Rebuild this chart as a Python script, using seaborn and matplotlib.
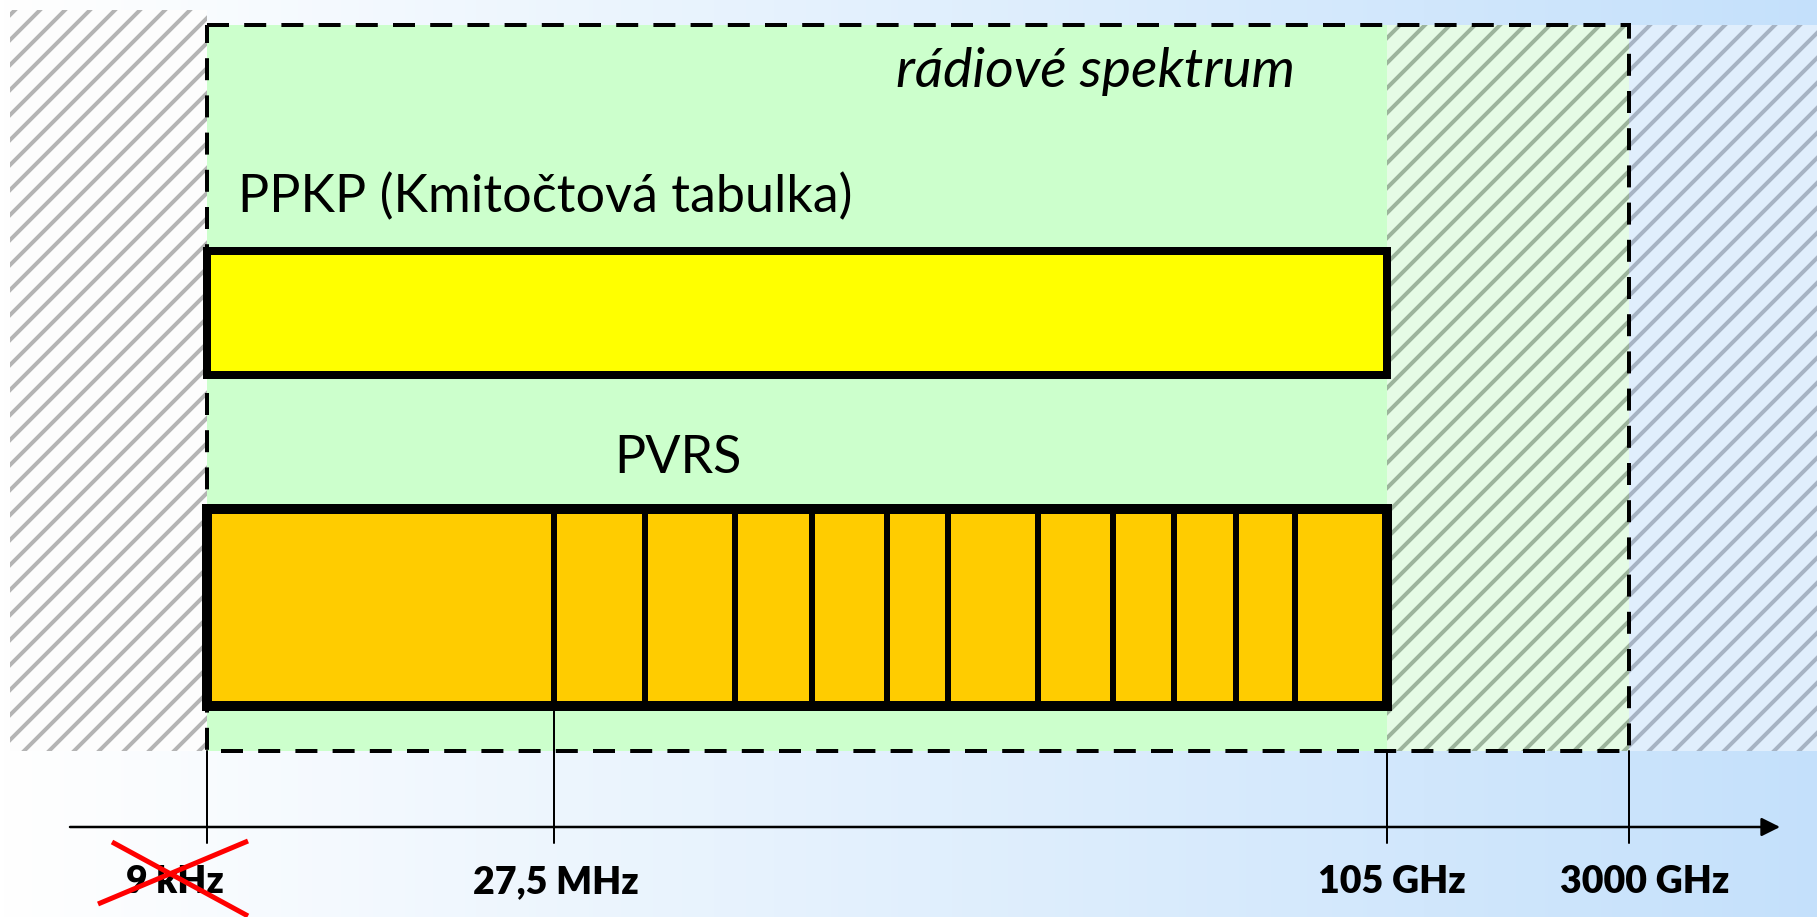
import numpy as np
import seaborn as sns
import matplotlib.pyplot as plt
from matplotlib.patches import Rectangle

# schematic frequency axis (positions along the drawn axis)
tick_labels = ["9 kHz", "27,5 MHz", "105 GHz", "3000 GHz"]
tick_pos = [207, 554, 1387, 1629]
# PVRS band edges (schematic)
pvrs_edges = [207, 554, 645, 735, 812, 887, 948, 1038, 1113, 1174, 1236, 1295, 1387]
# PPKP spans the whole allocated range
ppkp_span = [207, 1387]
# radio spectrum box and out-of-range areas
spectrum_span = [207, 1629]
outside_left = [10, 207]
outside_right = [1629, 1818]
unallocated = [1387, 1629]

sns.set_theme(style="white")
plt.rcParams['font.family'] = ['Lato', 'DejaVu Sans']
plt.rcParams['text.color'] = 'black'
plt.rcParams['hatch.linewidth'] = 3.8

DPI = 75
W, H = 1818, 917
fig = plt.figure(figsize=(W / DPI, H / DPI), dpi=DPI)
ax = fig.add_axes([0, 0, 1, 1])
ax.set_xlim(0, W)
ax.set_ylim(H, 0)
ax.axis('off')

# background gradient white -> light blue
grad = np.linspace(0, 1, 512)[None, :, None]
c0 = np.array([1.0, 1.0, 1.0])
c1 = np.array([0.77, 0.88, 0.985])
img = c0 + (c1 - c0) * grad
ax.imshow(img, extent=[0, W, H, 0], aspect='auto', zorder=0)

px = 72 / DPI  # points per pixel

# hatched regions outside the spectrum
ax.add_patch(Rectangle((outside_left[0], 10), outside_left[1] - outside_left[0], 741,
                       facecolor='#fdfdfd', edgecolor='#b4b4b4', hatch='/', lw=0, zorder=1))
ax.add_patch(Rectangle((unallocated[0], 25), unallocated[1] - unallocated[0], 726,
                       facecolor='#e5fbe5', edgecolor='#9cb49c', hatch='/', lw=0, zorder=1))
ax.add_patch(Rectangle((outside_right[0], 25), outside_right[1] - outside_right[0], 726,
                       facecolor='#e0eefc', edgecolor='#a6b3c3', hatch='/', lw=0, zorder=1))
# allocated part of the spectrum (green)
ax.add_patch(Rectangle((ppkp_span[0], 25), ppkp_span[1] - ppkp_span[0], 726,
                       facecolor='#ccffcc', lw=0, zorder=1))
# dashed radio spectrum box
ax.add_patch(Rectangle((spectrum_span[0], 25), spectrum_span[1] - spectrum_span[0], 726,
                       fill=False, edgecolor='black', lw=4 * px, ls=(0, (5.5, 3.8)), zorder=3))

# PPKP bar
ax.barh(313, ppkp_span[1] - ppkp_span[0], left=ppkp_span[0], height=124,
        color='#ffff00', edgecolor='black', linewidth=8 * px, zorder=4)

# PVRS bar with segments
edges = np.array(pvrs_edges)
ax.barh(607.5, np.diff(edges), left=edges[:-1], height=197,
        color='#ffcc00', edgecolor='black', linewidth=6 * px, zorder=4)
ax.barh(607.5, edges[-1] - edges[0], left=edges[0], height=197,
        fill=False, edgecolor='black', linewidth=10 * px, zorder=4)

# texts
ax.text(1295, 87, "rádiové spektrum", fontsize=53, style='italic', ha='right',
        va='baseline', zorder=5)
ax.text(238, 212, "PPKP (Kmitočtová tabulka)", fontsize=50, ha='left',
        va='baseline', zorder=5)
ax.text(614, 473, "PVRS", fontsize=50, ha='left', va='baseline', zorder=5)

# frequency axis with arrow
ax.annotate('', xy=(1780, 827), xytext=(70, 827),
            arrowprops=dict(arrowstyle='-|>,head_length=0.6,head_width=0.3',
                            color='black', lw=2.5 * px, mutation_scale=25,
                            shrinkA=0, shrinkB=0), zorder=5)
tick_tops = [751, 708, 751, 751]
for x, top in zip(tick_pos, tick_tops):
    ax.plot([x, x], [top, 843], color='black', lw=2 * px, zorder=5)

label_shift = [-32, 2, 5, 16]
for x, lab, dx in zip(tick_pos, tick_labels, label_shift):
    ax.text(x + dx, 893, lab, fontsize=36, fontweight='heavy', ha='center',
            va='baseline', zorder=5)

# 9 kHz is crossed out
cx = tick_pos[0] - 32
ax.plot([cx - 63, cx + 73], [842, 916], color='#ff0000', lw=5 * px, zorder=6,
        solid_capstyle='butt')
ax.plot([cx - 77, cx + 73], [904, 841], color='#ff0000', lw=5 * px, zorder=6,
        solid_capstyle='butt')

fig.savefig('out.png', dpi=DPI)
